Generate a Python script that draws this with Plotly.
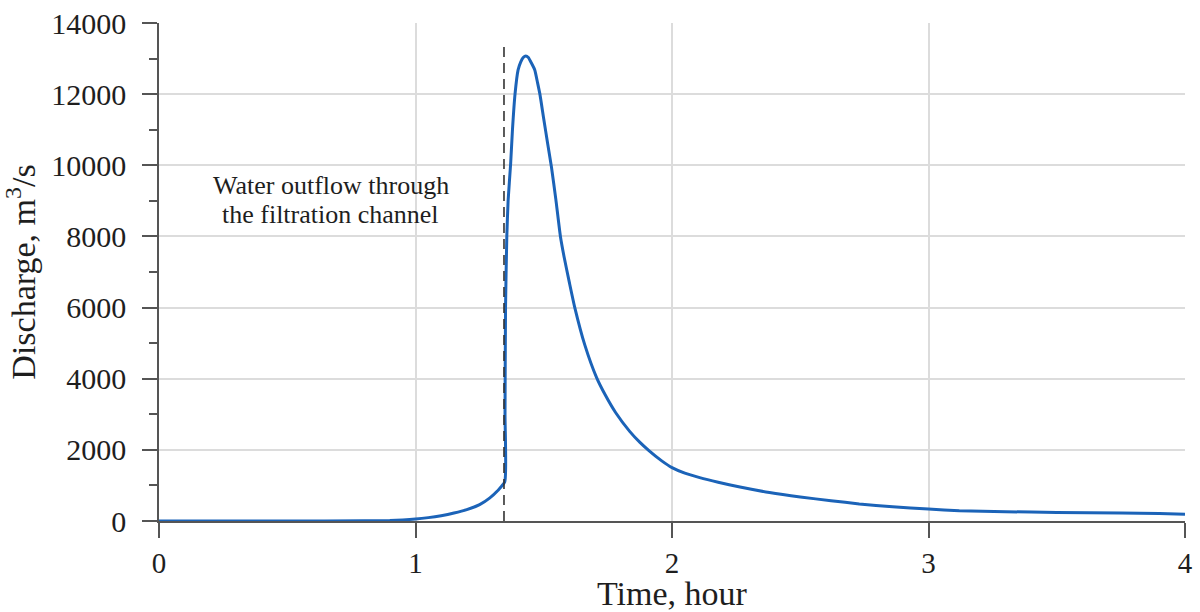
import plotly.graph_objects as go

# Outflow hydrograph: time (hour) vs discharge (m3/s)
time_h = [0.0, 0.5, 0.8, 0.9, 0.95, 1.0, 1.05, 1.1, 1.15, 1.2, 1.25, 1.29, 1.32, 1.348,
          1.349, 1.351, 1.356, 1.361, 1.371, 1.378, 1.388, 1.400, 1.410, 1.420,
          1.430, 1.440, 1.450, 1.465, 1.475, 1.485, 1.500, 1.515, 1.530,
          1.547, 1.565, 1.580, 1.600, 1.621, 1.660, 1.706, 1.740, 1.780, 1.835, 1.875,
          1.910, 1.960, 2.000, 2.050, 2.108, 2.180, 2.265, 2.380, 2.500, 2.620,
          2.730, 2.860, 3.000, 3.120, 3.300, 3.500, 3.750, 3.900, 4.000]
discharge = [0, 0, 5, 15, 30, 55, 95, 150, 225, 320, 460, 650, 850, 1100,
             3000, 6000, 8000, 9000, 10050, 11000, 12000, 12680, 12900, 13030,
             13075, 13030, 12900, 12680, 12350, 12000, 11300, 10620, 9950,
             9050, 8000, 7400, 6700, 6000, 4950, 4030, 3540, 3050, 2520, 2210,
             1980, 1690, 1500, 1345, 1220, 1090, 955, 800, 675, 570,
             480, 400, 335, 290, 262, 240, 225, 210, 190]

# Moment the filtration channel opens
marker_time = [1.345, 1.345]
marker_level = [0, 13450]

x_ticks = [0, 1, 2, 3, 4]
y_ticks = [0, 2000, 4000, 6000, 8000, 10000, 12000, 14000]
y_tick_text = ["0", "2000", "4000", "6000", "8000", "10000", "12000", "14000"]

note_lines = ["Water outflow through", "the filtration channel"]
note_x = 0.67
note_y = [9420, 8620]

font_family = "Liberation Serif"
text_color = "#1e1e1e"

fig = go.Figure()
fig.add_trace(go.Scatter(
    x=time_h, y=discharge, mode="lines",
    line=dict(color="#1b63b8", width=3, shape="spline", smoothing=0.5),
    showlegend=False, hoverinfo="skip",
))
fig.add_trace(go.Scatter(
    x=marker_time, y=marker_level, mode="lines",
    line=dict(color="#333333", width=1.6, dash="10px,6px"),
    showlegend=False, hoverinfo="skip",
))

for line_text, ly in zip(note_lines, note_y):
    fig.add_annotation(
        x=note_x, y=ly, xref="x", yref="y",
        text=line_text, showarrow=False, align="center",
        font=dict(family=font_family, size=26, color=text_color),
    )

fig.update_xaxes(
    range=[0, 4], tickvals=x_ticks,
    showgrid=True, gridcolor="#dcdcdc", gridwidth=1.5,
    showline=True, linecolor="#555555", linewidth=1.5,
    ticks="outside", ticklen=15, tickwidth=1.5, tickcolor="#555555",
    zeroline=False, automargin=False,
    ticklabelstandoff=0,
    tickfont=dict(family=font_family, size=29, color=text_color),
    title=dict(text="Time, hour", font=dict(family=font_family, size=34, color=text_color),
               standoff=2),
)
fig.update_yaxes(
    range=[0, 14000], tickvals=y_ticks, ticktext=y_tick_text,
    showgrid=True, gridcolor="#dcdcdc", gridwidth=1.5,
    showline=True, linecolor="#555555", linewidth=1.5,
    ticks="outside", ticklen=15, tickwidth=1.5, tickcolor="#555555",
    minor=dict(dtick=1000, ticks="outside", ticklen=8, tickwidth=1.5,
               tickcolor="#555555", showgrid=False),
    zeroline=False, automargin=False,
    ticklabelstandoff=10,
    tickfont=dict(family=font_family, size=30, color=text_color),
    title=dict(text="Discharge, m<sup>3</sup>/s",
               font=dict(family=font_family, size=34, color=text_color),
               standoff=10),
)

fig.update_layout(
    width=1200, height=612,
    margin=dict(l=159, r=15, t=23, b=91),
    plot_bgcolor="white", paper_bgcolor="white",
)

fig.write_html("out.html")
